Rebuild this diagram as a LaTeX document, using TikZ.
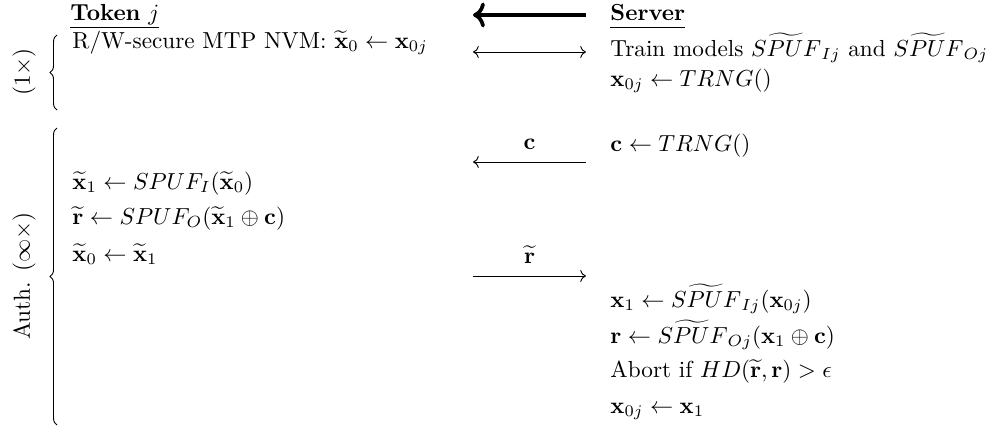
\documentclass[tikz,border=0pt]{standalone}
\usetikzlibrary{arrows.meta}
\usetikzlibrary{decorations.pathreplacing}

\begin{document}
\begin{tikzpicture}
	[x=0.431pt, y=-0.431pt,
	 txt/.style={anchor=base west, inner sep=0pt},
	 msg/.style={-{To}},
	 phase/.style={decorate, decoration={brace, amplitude=3pt}}]
	\useasboundingbox (0,0) rectangle (999,431);

	%headers
	\node (token) [txt] at (70,20) {\underline{\textbf{Token} $j$}};
	\node (server) [txt] at (610,20) {\underline{\textbf{Server}\vphantom{$j$}}};
	\coordinate (hdrR) at (586,15);
	\coordinate (hdrL) at (473,15);
	\draw[-{To}, line width=1.6pt] (hdrR) -- (hdrL);

	%enrollment (1x)
	\node (nvm) [txt] at (72,48) {R/W-secure MTP NVM: $\widetilde{\mathbf{x}}_0 \leftarrow \mathbf{x}_{0j}$};
	\node (train) [txt] at (610,56) {Train models $\widetilde{SPUF}_{Ij}$ and $\widetilde{SPUF}_{Oj}$};
	\node (seed) [txt] at (610,86) {$\mathbf{x}_{0j} \leftarrow TRNG()$};
	\coordinate (enrL) at (473,52);
	\coordinate (enrR) at (586,52);
	\draw[{To}-{To}] (enrL) -- (enrR);

	%authentication
	\node (chal) [txt] at (610,151) {$\mathbf{c} \leftarrow TRNG()$};
	\coordinate (cR) at (586,162);
	\coordinate (cL) at (473,162);
	\draw[msg] (cR) -- (cL) node[midway, above=2pt]{$\mathbf{c}$};

	\node (tokA) [txt] at (72,189) {$\widetilde{\mathbf{x}}_1 \leftarrow SPUF_I(\widetilde{\mathbf{x}}_0)$};
	\node (tokB) [txt] at (72,224) {$\widetilde{\mathbf{r}} \leftarrow SPUF_O(\widetilde{\mathbf{x}}_1 \oplus \mathbf{c})$};
	\node (tokC) [txt] at (72,261) {$\widetilde{\mathbf{x}}_0 \leftarrow \widetilde{\mathbf{x}}_1$};

	\coordinate (rL) at (473,276);
	\coordinate (rR) at (586,276);
	\draw[msg] (rL) -- (rR) node[midway, above=2pt]{$\widetilde{\mathbf{r}}$};

	\node (srvA) [txt] at (610,307) {$\mathbf{x}_1 \leftarrow \widetilde{SPUF}_{Ij}(\mathbf{x}_{0j})$};
	\node (srvB) [txt] at (610,343) {$\mathbf{r} \leftarrow \widetilde{SPUF}_{Oj}(\mathbf{x}_1 \oplus \mathbf{c})$};
	\node (srvC) [txt] at (610,377) {Abort if $HD(\widetilde{\mathbf{r}},\mathbf{r}) > \epsilon$};
	\node (srvD) [txt] at (610,413) {$\mathbf{x}_{0j} \leftarrow \mathbf{x}_1$};

	%braces
	\coordinate (onceB) at (57,110);
	\coordinate (onceT) at (57,35);
	\draw[phase] (onceB) -- (onceT);
	\node (once) [rotate=90] at (24,72) {(1$\times$)};
	\coordinate (authB) at (57,425);
	\coordinate (authT) at (57,128);
	\draw[phase] (authB) -- (authT);
	\node (auth) [rotate=90] at (24,276) {Auth. ($\infty\times$)};
\end{tikzpicture}
\end{document}
